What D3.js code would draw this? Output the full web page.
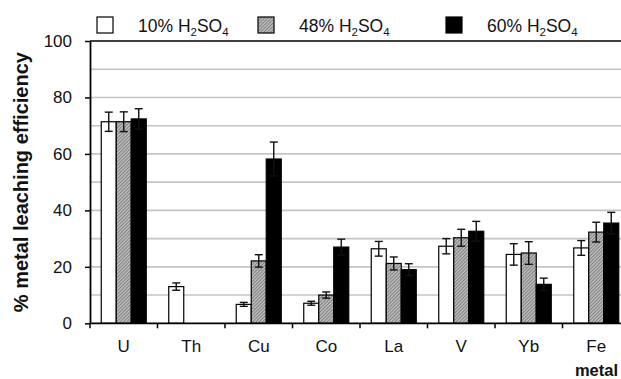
<!DOCTYPE html>
<html>
<head>
<meta charset="utf-8">
<script src="https://cdn.jsdelivr.net/npm/d3@7"></script>
<style>
  html, body { margin: 0; padding: 0; background: #fff; }
  svg { display: block; font-family: "Liberation Sans", Arial, sans-serif; }
</style>
</head>
<body>
<svg id="chart" width="621" height="379"></svg>
<script>
// Metals on the x axis
const metals = ["U", "Th", "Cu", "Co", "La", "V", "Yb", "Fe"];

// Acid concentrations (one bar per metal each)
const acidLabels = ["10%", "48%", "60%"];

// Leaching efficiency (%) per acid concentration, in metal order
const leach10 = [71.4, 13.0, 6.7, 7.1, 26.4, 27.3, 24.4, 26.7];
const leach48 = [71.4, 0, 22.1, 10.0, 21.2, 30.3, 24.9, 32.3];
const leach60 = [72.4, 0, 58.2, 27.0, 19.0, 32.6, 13.8, 35.5];

// Error bar half-widths (standard deviation)
const err10 = [3.4, 1.3, 0.7, 0.7, 2.6, 2.7, 3.8, 2.6];
const err48 = [3.5, 0, 2.2, 1.1, 2.3, 3.0, 4.0, 3.5];
const err60 = [3.6, 0, 6.0, 2.8, 2.1, 3.5, 2.2, 3.8];

// Y axis ticks
const yTicks = [0, 20, 40, 60, 80, 100];
const yGrid = [10, 20, 30, 40, 50, 60, 70, 80, 90];

const seriesValues = [leach10, leach48, leach60];
const seriesErrors = [err10, err48, err60];

const svg = d3.select("#chart");

// Fine hatched fill for the middle series
const defs = svg.append("defs");
const pat = defs.append("pattern")
  .attr("id", "hatch")
  .attr("patternUnits", "userSpaceOnUse")
  .attr("width", 2.4).attr("height", 2.4)
  .attr("patternTransform", "rotate(45)");
pat.append("rect").attr("width", 2.4).attr("height", 2.4).attr("fill", "#c6c6c6");
pat.append("rect").attr("width", 1.1).attr("height", 2.4).attr("fill", "#7c7c7c");

const fills = ["#ffffff", "url(#hatch)", "#000000"];

const plotLeft = 90, plotRight = 630, plotTop = 41, plotBottom = 323.3;

const y = d3.scaleLinear().domain([0, 100]).range([plotBottom, plotTop]);

const x0 = d3.scaleBand()
  .domain(metals)
  .range([plotLeft, plotRight])
  .paddingInner(1 / 3)
  .paddingOuter(1 / 6);

const x1 = d3.scaleBand()
  .domain(acidLabels)
  .range([0, x0.bandwidth()])
  .padding(0);

// Horizontal gridlines
svg.append("g")
  .selectAll("line")
  .data(yGrid)
  .join("line")
  .attr("x1", plotLeft).attr("x2", plotRight)
  .attr("y1", d => y(d)).attr("y2", d => y(d))
  .attr("stroke", "#c4c4c4")
  .attr("stroke-width", 1.6);

// Top line at 100
svg.append("line")
  .attr("x1", plotLeft).attr("x2", plotRight)
  .attr("y1", y(100)).attr("y2", y(100))
  .attr("stroke", "#000").attr("stroke-width", 1.6);

// Bars
const rows = [];
metals.forEach((m, i) => {
  acidLabels.forEach((a, s) => {
    rows.push({ metal: m, acid: a, s, v: seriesValues[s][i], e: seriesErrors[s][i] });
  });
});
const drawn = rows.filter(r => r.v > 0);

svg.append("g")
  .selectAll("rect")
  .data(drawn)
  .join("rect")
  .attr("x", d => x0(d.metal) + x1(d.acid))
  .attr("y", d => y(d.v))
  .attr("width", x1.bandwidth())
  .attr("height", d => y(0) - y(d.v))
  .attr("fill", d => fills[d.s])
  .attr("stroke", "#000")
  .attr("stroke-width", 1.2);

// Error bars
const cap = 4;
const eg = svg.append("g").attr("stroke", "#111").attr("stroke-width", 1.4);
drawn.filter(d => d.e > 0).forEach(d => {
  const cx = x0(d.metal) + x1(d.acid) + x1.bandwidth() / 2;
  const yt = y(d.v + d.e), yb = y(d.v - d.e);
  eg.append("line").attr("x1", cx).attr("x2", cx).attr("y1", yt).attr("y2", yb);
  eg.append("line").attr("x1", cx - cap).attr("x2", cx + cap).attr("y1", yt).attr("y2", yt);
  eg.append("line").attr("x1", cx - cap).attr("x2", cx + cap).attr("y1", yb).attr("y2", yb);
});

// Y axis
const yAxis = svg.append("g")
  .attr("transform", `translate(${plotLeft},0)`)
  .call(d3.axisLeft(y).tickValues(yTicks).tickSize(5).tickSizeOuter(0).tickPadding(13));
yAxis.select(".domain").attr("stroke", "#000").attr("stroke-width", 1.8);
yAxis.selectAll(".tick line").attr("stroke", "#000").attr("stroke-width", 1.5);
yAxis.selectAll(".tick text")
  .attr("font-size", 17).attr("fill", "#111")
  .attr("font-family", "Liberation Sans, Arial, sans-serif");

// X axis: category labels centred in each band
const xAxis = svg.append("g")
  .attr("transform", `translate(0,${plotBottom})`)
  .call(d3.axisBottom(x0).tickSize(0).tickPadding(17));
xAxis.select(".domain").remove();
xAxis.selectAll(".tick text")
  .attr("font-size", 17).attr("fill", "#111")
  .attr("font-family", "Liberation Sans, Arial, sans-serif");

// X axis line and boundary ticks between categories
svg.append("line")
  .attr("x1", plotLeft).attr("x2", plotRight)
  .attr("y1", plotBottom).attr("y2", plotBottom)
  .attr("stroke", "#000").attr("stroke-width", 1.8);
const step = x0.step();
const bounds = metals.map(m => x0(m) - step * x0.paddingInner() / 2).concat([plotRight]);
svg.append("g")
  .selectAll("line")
  .data(bounds)
  .join("line")
  .attr("x1", d => d).attr("x2", d => d)
  .attr("y1", plotBottom).attr("y2", plotBottom + 5)
  .attr("stroke", "#000").attr("stroke-width", 1.5);

// Axis titles
svg.append("text")
  .attr("transform", `translate(28,${(plotTop + plotBottom) / 2}) rotate(-90)`)
  .attr("text-anchor", "middle")
  .attr("font-size", 20)
  .attr("font-weight", "bold")
  .attr("fill", "#111")
  .text("% metal leaching efficiency");

svg.append("text")
  .attr("x", 618).attr("y", 376)
  .attr("text-anchor", "end")
  .attr("font-size", 16.5)
  .attr("font-weight", "bold")
  .attr("fill", "#111")
  .text("metal");

// Legend
const legendX = [97, 258, 446];
const legend = svg.append("g");
acidLabels.forEach((a, s) => {
  const g = legend.append("g").attr("transform", `translate(${legendX[s]},17)`);
  g.append("rect")
    .attr("width", 16).attr("height", 16)
    .attr("fill", fills[s])
    .attr("stroke", "#000").attr("stroke-width", 1.2);
  const t = g.append("text")
    .attr("x", 41).attr("y", 15)
    .attr("font-size", 17.5)
    .attr("fill", "#111");
  t.append("tspan").text(a + " H");
  t.append("tspan").attr("font-size", 11.5).attr("dy", 4).text("2");
  t.append("tspan").attr("dy", -4).text("SO");
  t.append("tspan").attr("font-size", 11.5).attr("dy", 4).text("4");
});
</script>
</body>
</html>
